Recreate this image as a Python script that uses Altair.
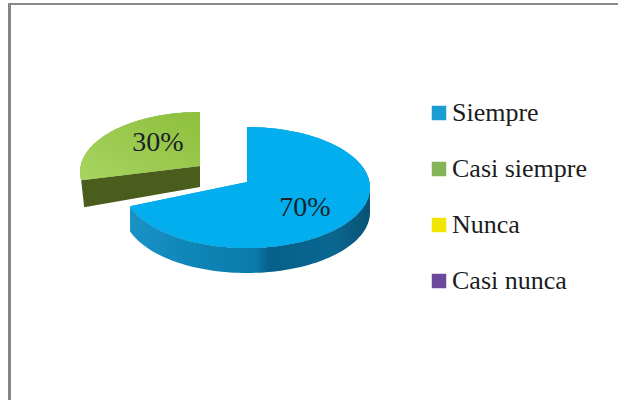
import math
import altair as alt

# Survey answers and their share of responses (percent)
categories = ["Siempre", "Casi siempre", "Nunca", "Casi nunca"]
shares = [70, 30, 0, 0]
legend_colors = ["#1a9dd0", "#85b558", "#f2e600", "#6b4a9e"]
label_texts = ["70%", "30%"]

# Pie geometry in screen pixels: ellipse centre, radii, apex, wall depth
BLUE = dict(cx=247, cy=187.5, a=123, b=60.5, ax=247, ay=182, depth=25)
GREEN = dict(cx=200, cy=172, a=120, b=60, ax=200, ay=166, depth_l=27, depth_r=21, skew=10)


def rim(g, start, end, step=2):
    """Points on the ellipse rim, clockwise from twelve o'clock (degrees)."""
    n = max(2, int(abs(end - start) / step) + 1)
    pts = []
    for i in range(n):
        t = math.radians(start + (end - start) * i / (n - 1))
        pts.append([g["cx"] + g["a"] * math.sin(t), g["cy"] - g["b"] * math.cos(t)])
    return pts


def feature(name, ring):
    return {
        "type": "Feature",
        "properties": {"name": name},
        "geometry": {"type": "Polygon", "coordinates": [ring + [ring[0]]]},
    }


def geo(features):
    return alt.InlineData(
        values={"type": "FeatureCollection", "features": features},
        format=alt.DataFormat(property="features", type="json"),
    )


split = 360 * shares[0] / sum(shares)

# Top faces; the detached slice is seen slightly rotated by the 3D view
blue_top = [[BLUE["ax"], BLUE["ay"]]] + rim(BLUE, 0, split)
green_top = [[GREEN["ax"], GREEN["ay"]]] + rim(GREEN, split + GREEN["skew"], 360)

# Curved outer wall of the large slice
wall_top = rim(BLUE, 90, split)
wall_bottom = [[x, y + BLUE["depth"]] for x, y in reversed(wall_top)]
blue_wall = wall_top + wall_bottom

# Flat cut face of the detached slice
left_corner = green_top[1]
green_wall = [
    [GREEN["ax"], GREEN["ay"]],
    left_corner,
    [left_corner[0] + 3, left_corner[1] + GREEN["depth_l"]],
    [GREEN["ax"], GREEN["ay"] + GREEN["depth_r"]],
]

projection = alt.Projection(type="identity", scale=1, translate=[0, 0])


def gradient(stops, x1=0, y1=0, x2=1, y2=0):
    return alt.Gradient(
        gradient="linear", x1=x1, y1=y1, x2=x2, y2=y2,
        stops=[alt.GradientStop(offset=o, color=c) for o, c in stops],
    )


# Carries the colour legend for all four answers
legend_faces = [feature(categories[0], blue_top), feature(categories[1], green_top)] + [
    feature(c, [[GREEN["ax"], GREEN["ay"]]] * 3) for c in categories[2:]
]
legend_layer = alt.Chart(geo(legend_faces)).mark_geoshape(strokeWidth=0).encode(
    color=alt.Color(
        "properties.name:N",
        scale=alt.Scale(domain=categories, range=legend_colors),
        sort=categories,
        legend=alt.Legend(
            orient="none", legendX=426, legendY=100, title=None,
            symbolType="square", symbolSize=210, symbolStrokeWidth=0,
            labelFont="Liberation Serif", labelFontSize=26, labelColor="#1c1c1c",
            labelOffset=0, rowPadding=30, labelLimit=200,
        ),
    )
).project(**projection.to_dict())


def face(ring, fill):
    return alt.Chart(geo([feature("f", ring)])).mark_geoshape(
        fill=fill, strokeWidth=0, stroke=None
    ).project(**projection.to_dict())


wall_fill = gradient([
    (0.0, "#1a92c6"), (0.25, "#0e86b8"), (0.52, "#0a7cab"),
    (0.58, "#06608a"), (0.85, "#0a6790"), (1.0, "#085273"),
])
green_fill = gradient([(0.0, "#a8d460"), (1.0, "#8dbf3c")], x1=0, y1=1, x2=1, y2=0)

pie = [
    face(blue_wall, wall_fill),
    face(blue_top, "#02aeee"),
    face(green_wall, "#4b5d1c"),
    face(green_top, green_fill),
]


def label(text, x, y):
    return alt.Chart(alt.Data(values=[{"t": text}])).mark_text(
        font="Liberation Serif", fontSize=28, color="#1a2228",
        align="center", baseline="middle",
    ).encode(text="t:N", x=alt.value(x), y=alt.value(y))


labels = [label(label_texts[0], 305, 208), label(label_texts[1], 158, 143)]

frame = [
    alt.Chart(alt.Data(values=[{}])).mark_rule(color="#868686", strokeWidth=3).encode(
        x=alt.value(9.5), y=alt.value(3), y2=alt.value(400)
    ),
    alt.Chart(alt.Data(values=[{}])).mark_rule(color="#8a8a8a", strokeWidth=2).encode(
        x=alt.value(8), x2=alt.value(618), y=alt.value(4)
    ),
]

chart = alt.layer(legend_layer, *pie, *labels, *frame).properties(
    width=618, height=400, padding=0,
    autosize=alt.AutoSizeParams(type="none"),
    background="#ffffff",
).configure_view(stroke=None)

chart.save("out.html", embed_options={"renderer": "svg", "actions": False})
